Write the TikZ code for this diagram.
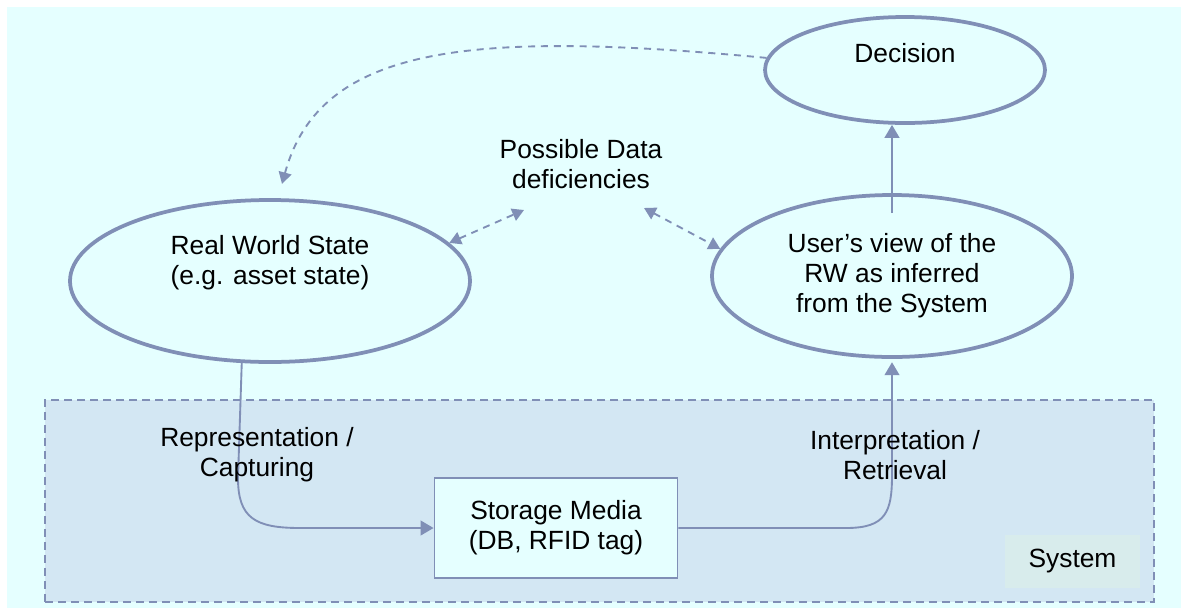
\documentclass[tikz,border=0pt]{standalone}
\usepackage{fontspec}
\setmainfont{Liberation Sans}
\usetikzlibrary{arrows.meta,shapes.geometric}

\definecolor{sky}{RGB}{229,255,255}
\definecolor{edge}{RGB}{128,143,182}
\definecolor{sysfill}{RGB}{211,231,243}
\definecolor{tagfill}{RGB}{216,236,236}

\newcommand*\pxunit{0.03cm}
\tikzset{
    bubble/.style 2 args={
        ellipse,
        draw=edge,
        line width=3.2pt,
        minimum width=#1*\pxunit,
        minimum height=#2*\pxunit,
        inner sep=0pt
    },
    box/.style={
        rectangle,
        draw=edge,
        line width=1.6pt,
        fill=sky,
        minimum width=243*\pxunit,
        minimum height=100*\pxunit
    },
    sysarea/.style={
        rectangle,
        draw=edge,
        line width=1.6pt,
        dash pattern=on 6.8pt off 4.3pt,
        fill=sysfill
    },
    tag/.style={
        rectangle,
        fill=tagfill,
        minimum width=135*\pxunit,
        minimum height=53*\pxunit
    },
    flow/.style={
        draw=edge,
        line width=1.6pt,
        -{Triangle[length=11pt,width=12.5pt]}
    },
    dflow/.style={
        draw=edge,
        line width=1.6pt,
        dash pattern=on 6pt off 5pt,
        -{Triangle[length=10pt,width=11pt]}
    },
    ddflow/.style={
        dflow,
        {Triangle[length=10pt,width=11pt]}-{Triangle[length=10pt,width=11pt]}
    }
}

\begin{document}
\begin{tikzpicture}[x=\pxunit,y=-\pxunit,font=\fontsize{22.5}{25.5}\selectfont,
    every node/.append style={align=center}]

    % Page size and background.
    \useasboundingbox (0,0) rectangle (1181,608);
    \fill[sky] (7,7) rectangle (1181,608);

    % The system area and its tag.
    \node[sysarea, minimum width=1109*\pxunit, minimum height=202*\pxunit] (system) at (599.5,501) {};
    \node[tag] (systag) at (1072.5,561.5) {System};

    % The store inside the system.
    \node[box] (store) at (556,528) {Storage Media\\(DB, RFID tag)};

    % The three ellipses.
    \node[bubble={400}{162}] (world) at (270,281) {};
    \node (worldtext) at (270,263) {Real World State\\(e.g. asset state)};
    \node[bubble={360}{162}] (view) at (892,276) {User’s view of the\\RW as inferred\\from the System};
    \node[bubble={280}{106}] (decision) at (905,70) {};
    \node (decisiontext) at (905,53) {Decision};

    % Deficiencies between the two views.
    \node (deficiency) at (581,164) {Possible Data\\deficiencies};
    \coordinate (gapleft) at (524,210);
    \coordinate (gapright) at (644,208);
    \coordinate (worldtop) at (282,184);

    \draw[ddflow] (world.12) -- (gapleft);
    \draw[ddflow] (gapright) -- (view.171);

    % Decision feeds back to the real world.
    \draw[dflow] (decision.175) .. controls (470,30) and (320,45) .. (worldtop);

    % View to decision.
    \draw[flow] ([yshift=-0.6cm]view.north) -- (view.north |- decision.south);

    % Capturing and retrieval.
    \draw[flow] (world.251) -- (238,478) .. controls (238,518) and (255,528) .. (300,528) -- (store.west);
    \draw[flow, shorten >=0.1cm] (store.east) -- (846,528) .. controls (886,528) and (892,512) .. (892,475) -- (view.south);

    \node (capture) at (257,455) {Representation /\\Capturing};
    \node (retrieve) at (895,455) {Interpretation /\\Retrieval};

\end{tikzpicture}
\end{document}
